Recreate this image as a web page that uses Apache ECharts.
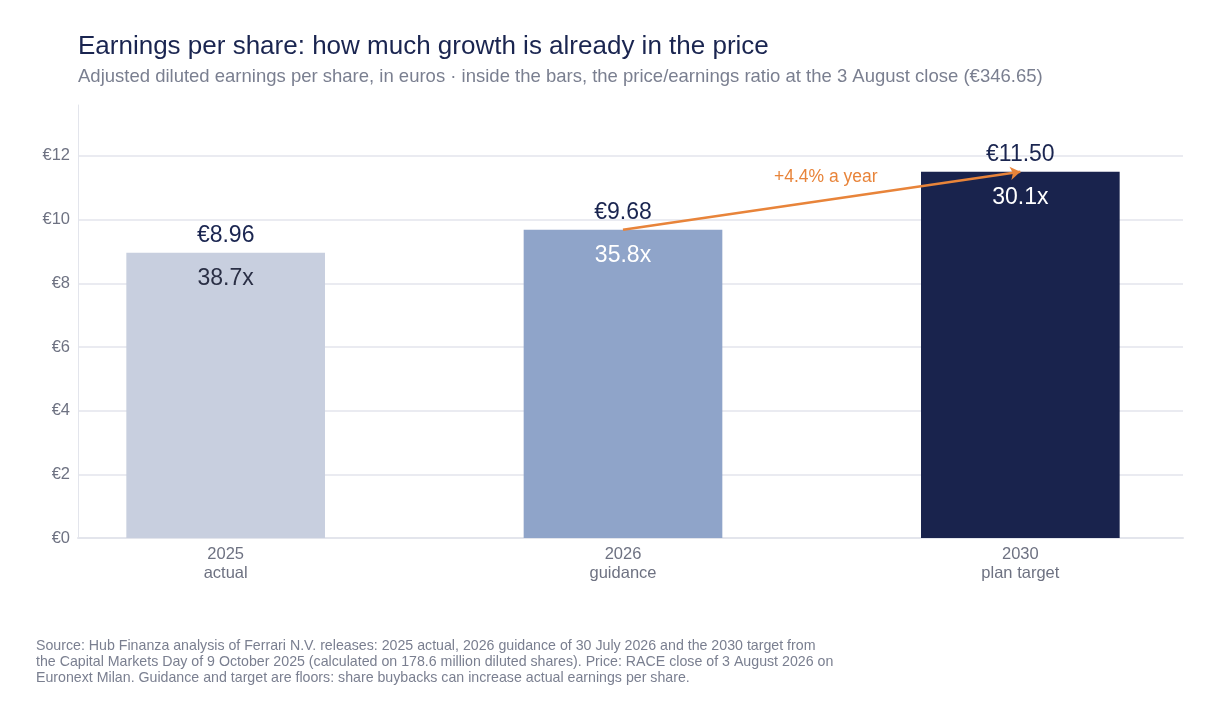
<!DOCTYPE html><html><head><meta charset="utf-8">
<script src="https://cdn.jsdelivr.net/npm/echarts@6/dist/echarts.min.js"></script>
<style>html,body{margin:0;background:#fff}#c{width:1219px;height:721px}</style></head><body><div id="c"></div>
<script>
const categories=['2025\nactual','2026\nguidance','2030\nplan target'];
const eps=[8.96,9.68,11.50];
const pe=['38.7x','35.8x','30.1x'];
const colors=['#c8cfdf','#8fa4c9','#19234d'];
const peColors=['#2a2f45','#ffffff','#ffffff'];
const growthLabel='+4.4% a year';
const F='Liberation Sans, Arial, sans-serif';
const ch=echarts.init(document.getElementById('c'));
ch.setOption({
 backgroundColor:'#fff',
 textStyle:{fontFamily:F},
 title:{text:'Earnings per share: how much growth is already in the price',
  subtext:'Adjusted diluted earnings per share, in euros · inside the bars, the price/earnings ratio at the 3 August close (€346.65)',
  left:73,top:29,itemGap:7,
  textStyle:{fontSize:26,fontWeight:'normal',color:'#1a2550'},
  subtextStyle:{fontSize:18.5,color:'#7a7f90'}},
 grid:[{left:78,right:36,top:105,bottom:183},{left:27,right:-14,top:105,bottom:183}],
 xAxis:[{type:'category',gridIndex:0,data:['a'],axisTick:{show:false},axisLabel:{show:false},
  axisLine:{lineStyle:{color:'#e3e5ec',width:2}}},
  {type:'category',gridIndex:1,data:categories,axisTick:{show:false},axisLine:{show:false},
  axisLabel:{color:'#6e7282',fontSize:16.5,lineHeight:19,margin:7}}],
 yAxis:[{type:'value',gridIndex:0,min:0,max:13.6,interval:2,
  axisLine:{show:true,lineStyle:{color:'#e3e5ec'}},
  axisLabel:{color:'#6e7282',fontSize:16.5,margin:8,formatter:v=>v%2===0?'€'+v:''},
  splitLine:{showMaxLine:false,lineStyle:{color:'#e3e5ec',width:1.5}}},
  {type:'value',gridIndex:1,min:0,max:13.6,show:false}],
 series:[{type:'bar',xAxisIndex:1,yAxisIndex:1,barWidth:'50%',
  data:eps.map((v,i)=>({value:v,itemStyle:{color:colors[i]},
    label:{show:true,position:'insideTop',distance:14,formatter:pe[i],color:peColors[i],fontSize:23}})),
  markLine:{symbol:['none','arrow'],symbolSize:10,silent:true,
   lineStyle:{color:'#e8843a',width:2.5,type:'solid'},label:{show:false},
   data:[[{coord:[1,9.68]},{coord:[2,11.5]}]]},
  z:2},
 {type:'bar',xAxisIndex:1,yAxisIndex:1,barGap:'-100%',barWidth:'50%',silent:true,
  data:eps.map(v=>({value:v,itemStyle:{color:'transparent'}})),
  label:{show:true,position:'top',distance:6,formatter:p=>'€'+p.value.toFixed(2),color:'#1a2550',fontSize:23},z:1}],
 graphic:[
  {type:'text',left:774,top:168,style:{text:growthLabel,fill:'#e8843a',fontSize:17.5,fontFamily:F}},
  {type:'text',left:36,top:638,style:{text:'Source: Hub Finanza analysis of Ferrari N.V. releases: 2025 actual, 2026 guidance of 30 July 2026 and the 2030 target from\nthe Capital Markets Day of 9 October 2025 (calculated on 178.6 million diluted shares). Price: RACE close of 3 August 2026 on\nEuronext Milan. Guidance and target are floors: share buybacks can increase actual earnings per share.',
   fill:'#7a7f90',fontSize:14.2,lineHeight:16,fontFamily:F}}
 ]
});
</script></body></html>
